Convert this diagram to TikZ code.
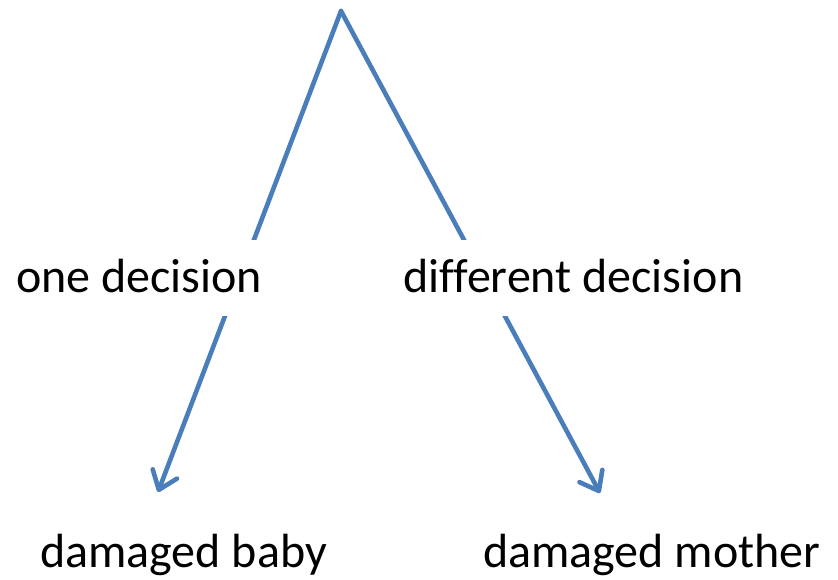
\documentclass[tikz,border=0pt]{standalone}
\usepackage{fontspec}
\setmainfont{Carlito}[Ligatures=CommonOff]
\usetikzlibrary{arrows.meta}
\definecolor{officeblue}{HTML}{4A7EBB}
\tikzset{
  branch/.style={draw=officeblue, line width=4.6pt, line cap=round, line join=round,
    -{Straight Barb[length=17pt,width=26pt,round]}},
  lbl/.style={anchor=base west, fill=white, inner xsep=4pt, inner ysep=0pt,
    text height=52pt, text depth=24pt, font=\fontsize{48}{56}\selectfont, text=black}
}
\begin{document}
\begin{tikzpicture}[x=1pt,y=-1pt]
\useasboundingbox (0,0) rectangle (838,579);
\coordinate (apex) at (341,11);
\coordinate (tipL) at (158,492);
\coordinate (tipR) at (600,493);
\draw[branch] (apex) -- (tipL);
\draw[branch] (apex) -- (tipR);
\node[lbl] (one) at (12,292) {one decision};
\node[lbl] (diff) at (399,292) {different decision};
\node[lbl, fill=none] (baby) at (36,567) {damaged baby};
\node[lbl, fill=none] (mother) at (479,567) {damaged mother};
\end{tikzpicture}
\end{document}
